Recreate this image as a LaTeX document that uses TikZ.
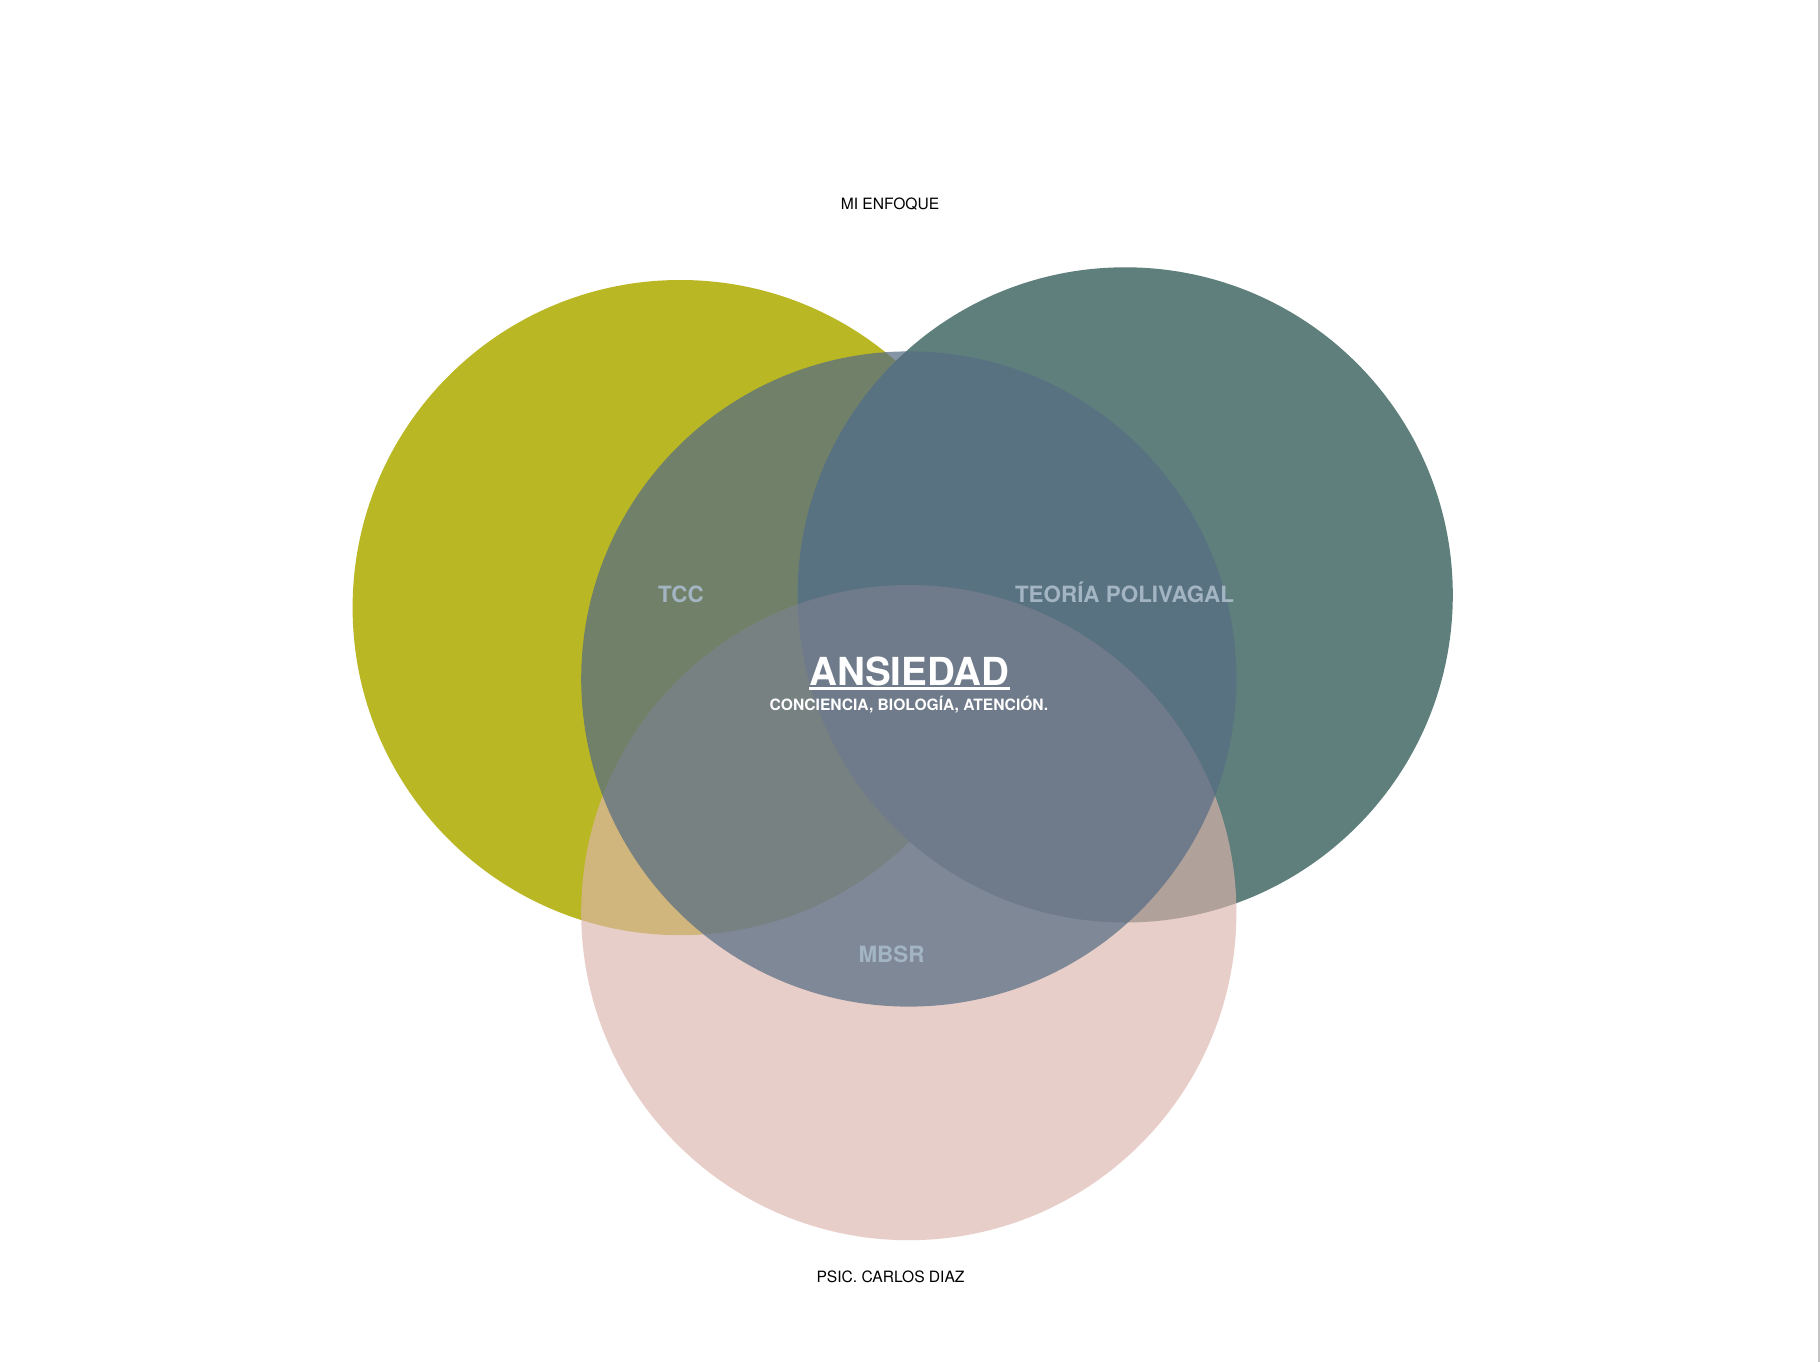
\documentclass[tikz,border=0pt]{standalone}
\usepackage{fontspec}
\setmainfont{TeX Gyre Heros}
\definecolor{cyellow}{HTML}{BAB724}
\definecolor{cteal}{HTML}{5F7F7C}
\definecolor{cpink}{HTML}{DDB4AC}
\definecolor{cmid}{HTML}{566D84}
\definecolor{clabel}{HTML}{A3B4C2}
\definecolor{cedge}{HTML}{C4C4C4}
\tikzset{
  lbl/.style={anchor=base, inner sep=0pt, text=clabel, font=\fontsize{22.4}{22.4}\selectfont\bfseries},
  small/.style={anchor=base, inner sep=0pt, text=black, font=\fontsize{15.6}{15.6}\selectfont},
}
\begin{document}
\begin{tikzpicture}[x=1pt,y=-1pt]
\fill[white] (0,0) rectangle (1820,1362);
\useasboundingbox (0,0) rectangle (1820,1362);
\draw[cedge, line width=1.3pt] (1819,0) -- (1819,1362);
% circles
\fill[cyellow] (680.2,607.6) circle[radius=327.6];
\fill[cteal] (1125.2,594.9) circle[radius=327.6];
\fill[cpink, fill opacity=0.65] (908.8,912.6) circle[radius=327.6];
\fill[cmid, fill opacity=0.72] (908.8,679) circle[radius=327.6];
% labels
\node[lbl] (tcc) at (681,602.6) {TCC};
\node[lbl] (poli) at (1124.5,602.6) {TEORÍA POLIVAGAL};
\node[lbl] (mbsr) at (891.5,962.3) {MBSR};
\node[anchor=base, inner sep=0pt, text=white, font=\fontsize{38.6}{38.6}\selectfont\bfseries] (ans) at (909.5,685.5) {ANSIEDAD};
\draw[white, line width=2.6pt] ([yshift=-3pt]ans.base west) -- ([yshift=-3pt]ans.base east);
\node[anchor=base, inner sep=0pt, text=white, font=\fontsize{15.6}{15.6}\selectfont\bfseries] (sub) at (909,710) {CONCIENCIA, BIOLOGÍA, ATENCIÓN.};
\node[small] (title) at (890,209) {MI ENFOQUE};
\node[small] (author) at (890.5,1282.7) {PSIC. CARLOS DIAZ};
\end{tikzpicture}
\end{document}
